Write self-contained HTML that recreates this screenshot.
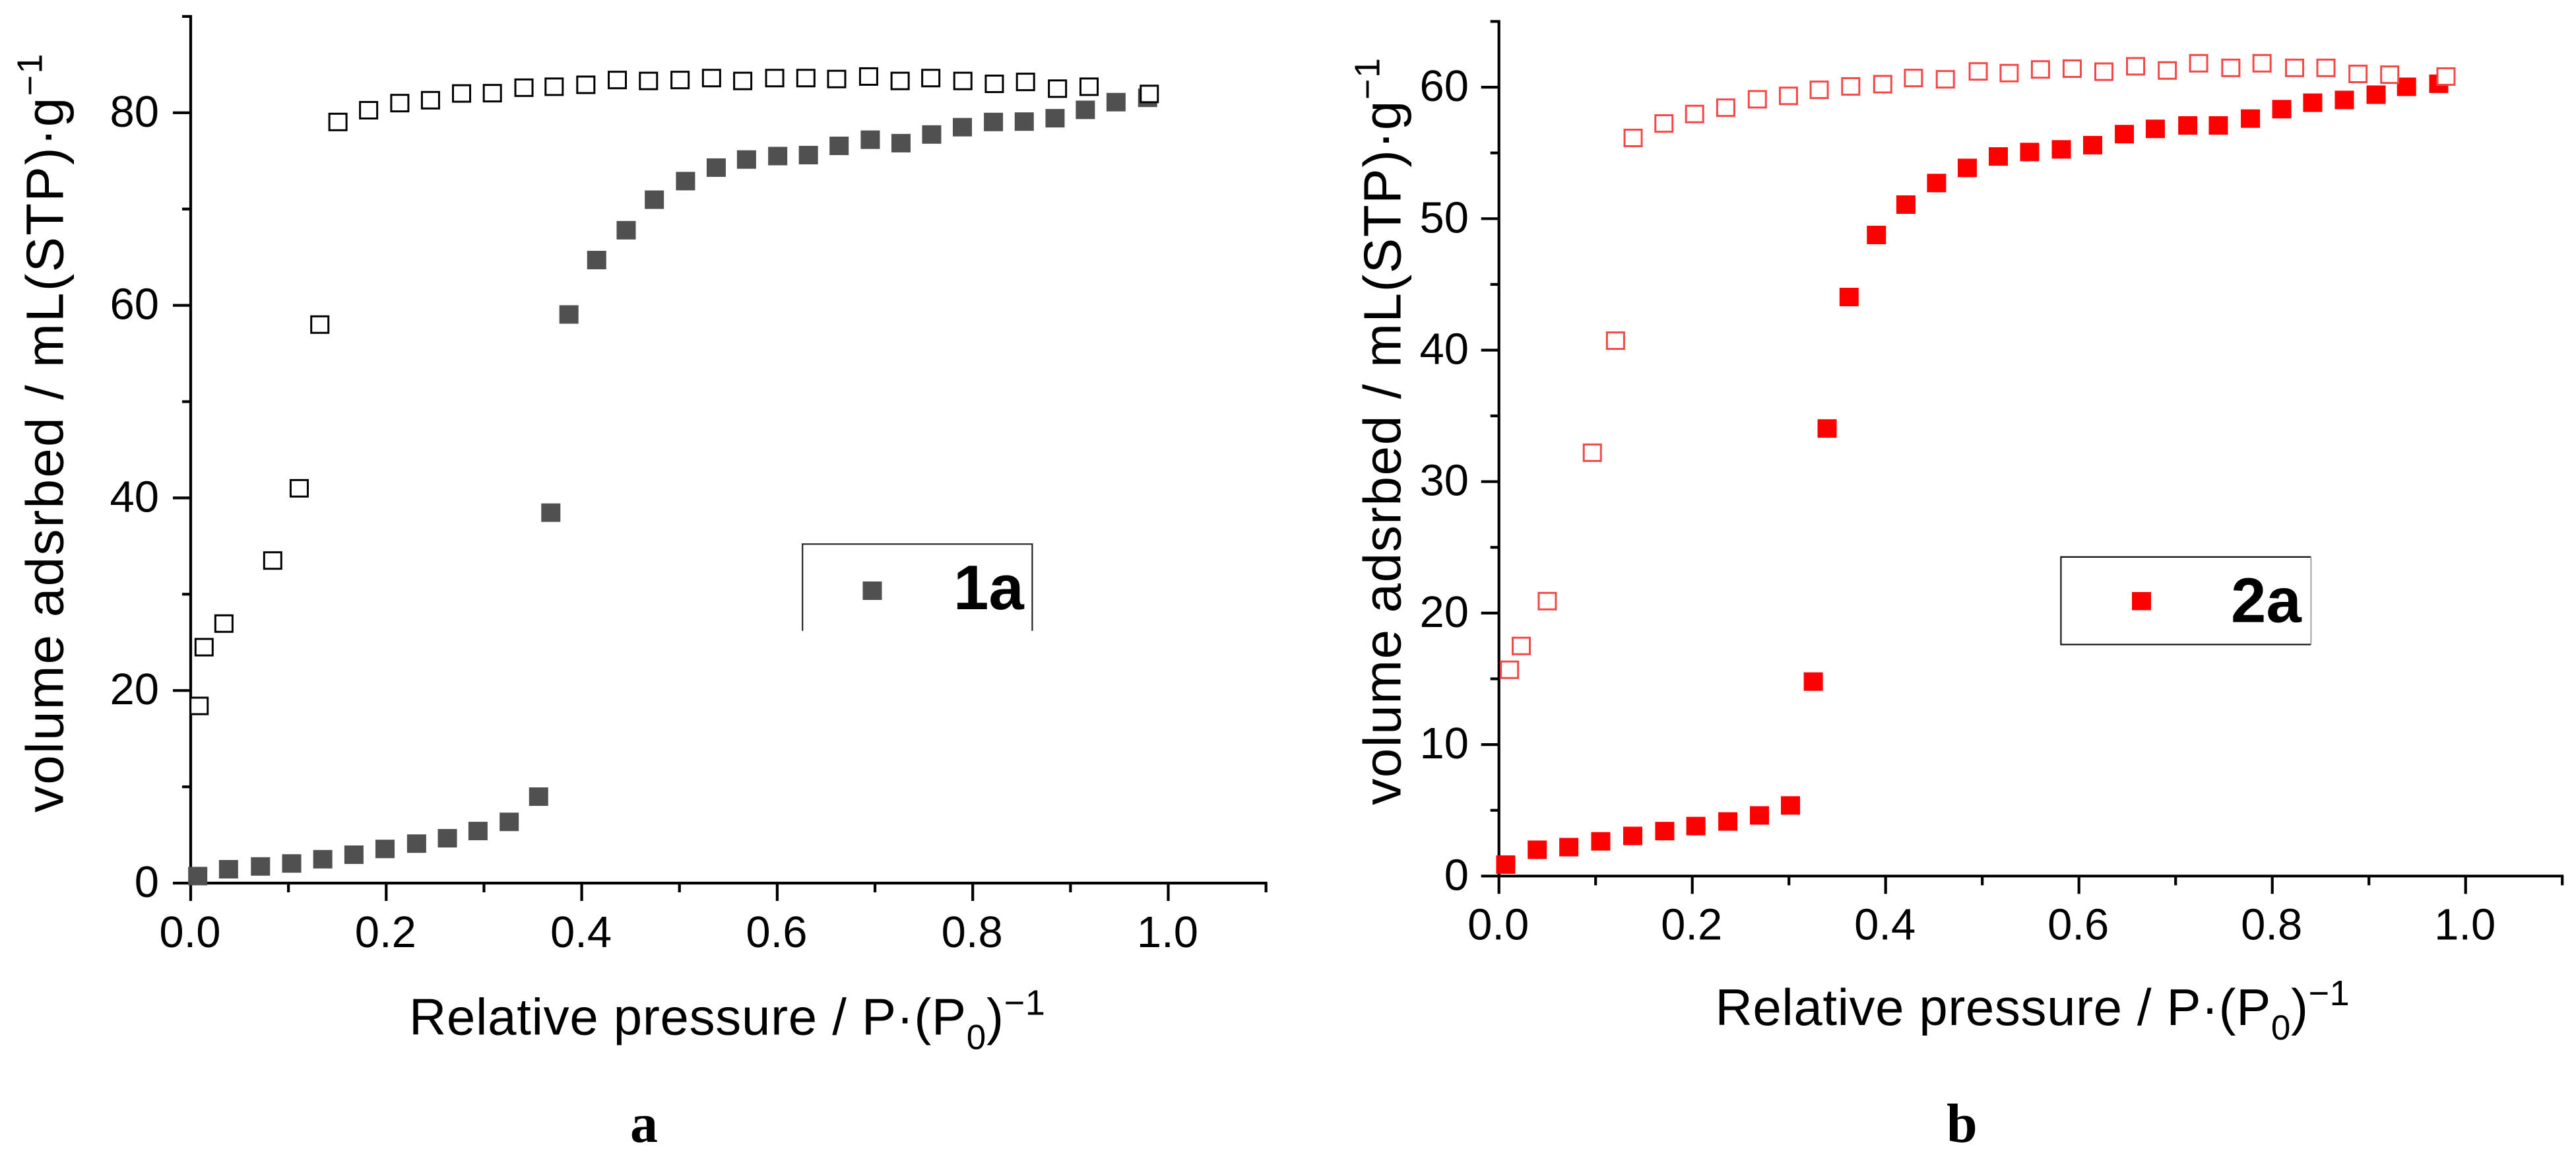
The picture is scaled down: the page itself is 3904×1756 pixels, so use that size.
<!DOCTYPE html>
<html lang="en">
<head>
<meta charset="utf-8">
<title>Nitrogen sorption isotherms 1a and 2a</title>
<style>
html,body{margin:0;padding:0;background:#fff;}
svg{display:block;}
text{font-family:"Liberation Sans",Arial,sans-serif;fill:#000;}
.serif{font-family:"Liberation Serif","Times New Roman",serif;font-weight:bold;}
</style>
</head>
<body>
<svg id="figure" xmlns="http://www.w3.org/2000/svg" width="3904" height="1756" viewBox="0 0 3904 1756">
  <rect x="0" y="0" width="3904" height="1756" fill="#fff"/>
  <g id="panel-a"></g>
  <g id="panel-b"></g>

  <text transform="translate(95.7 1231) rotate(-90)" font-size="80" letter-spacing="2.25">volume adsrbed / mL(STP)·g<tspan dy="-32" font-size="54">−1</tspan></text>
  <text x="620" y="1567.6" font-size="78" letter-spacing="0.7">Relative pressure / P·(P<tspan dy="22" font-size="53">0</tspan><tspan dy="-22">)</tspan><tspan dy="-30" font-size="54">−1</tspan></text>

  <g>
    <path d="M1216.2 955.7V824.3H1564.4V955.7" fill="none" stroke="#222" stroke-width="2.2"/>
    <rect x="1307.5" y="881" width="29" height="28" fill="#505050"/>
    <text x="1445" y="923" font-size="96" font-weight="bold">1a</text>
  </g>
  <g>
    <path d="M3502.4 843.9H3123.4V976.5H3502.4" fill="none" stroke="#111" stroke-width="2.2"/>
    <line x1="3502.4" y1="843.9" x2="3502.4" y2="976.5" stroke="#999" stroke-width="1.8"/>
    <rect x="3231" y="897" width="29" height="27.5" fill="#ff0000"/>
    <text x="3381" y="942.4" font-size="96" font-weight="bold">2a</text>
  </g>

  <text transform="translate(2122.4 1219.8) rotate(-90)" font-size="80" letter-spacing="1.6">volume adsrbed / mL(STP)·g<tspan dy="-32" font-size="54">−1</tspan></text>
  <text x="2599.5" y="1553" font-size="78" letter-spacing="0.6">Relative pressure / P·(P<tspan dy="22" font-size="53">0</tspan><tspan dy="-22">)</tspan><tspan dy="-30" font-size="54">−1</tspan></text>

  <text class="serif" x="955" y="1730" font-size="84">a</text>
  <text class="serif" x="2950" y="1730" font-size="84">b</text>
</svg>
<script>
// Shared tick labels
const xTickValuesMajor = [0, 0.2, 0.4, 0.6, 0.8, 1.0];
const xTickLabels = ["0.0", "0.2", "0.4", "0.6", "0.8", "1.0"];
const xTickValuesMinor = [0.1, 0.3, 0.5, 0.7, 0.9, 1.1];

// Panel a
const aYTickValuesMajor = [0, 20, 40, 60, 80];
const aYTickLabels = ["0", "20", "40", "60", "80"];
const aYTickValuesMinor = [10, 30, 50, 70, 90];
const aAdsorptionP = [0.0072,0.0387,0.0714,0.1033,0.1351,0.167,0.1988,0.2311,0.2626,0.2939,0.3258,0.3559,0.3684,0.3869,0.4153,0.4455,0.4743,0.5062,0.5376,0.5686,0.6005,0.6319,0.6633,0.6952,0.7266,0.758,0.7894,0.8212,0.8527,0.8842,0.9152,0.9466,0.9789];
const aAdsorptionV = [0.73,1.44,1.73,2.04,2.48,2.95,3.55,4.1,4.66,5.41,6.36,8.98,38.47,59.05,64.7,67.8,70.97,72.9,74.3,75.14,75.5,75.6,76.56,77.2,76.84,77.74,78.5,79.04,79.08,79.43,80.3,81.1,81.55];
const aDesorptionP = [0.0086,0.0137,0.034,0.0839,0.111,0.1321,0.1506,0.182,0.2139,0.2453,0.2771,0.3086,0.3409,0.3718,0.4042,0.4364,0.4683,0.5006,0.5328,0.5647,0.5974,0.6293,0.6608,0.6935,0.7257,0.7571,0.7899,0.8221,0.854,0.8867,0.919,0.9806];
const aDesorptionV = [18.4,24.5,26.95,33.5,41.0,58.0,79.04,80.26,81.0,81.3,82.0,82.03,82.6,82.7,82.9,83.4,83.3,83.4,83.6,83.3,83.6,83.6,83.5,83.76,83.3,83.6,83.3,83.0,83.2,82.5,82.7,81.95];

// Panel b
const bYTickValuesMajor = [0, 10, 20, 30, 40, 50, 60];
const bYTickLabels = ["0", "10", "20", "30", "40", "50", "60"];
const bYTickValuesMinor = [5, 15, 25, 35, 45, 55, 65];
const bAdsorptionP = [0.007,0.0396,0.0723,0.1053,0.1384,0.1715,0.2037,0.2368,0.2695,0.3016,0.3252,0.3395,0.3622,0.3905,0.421,0.4527,0.4845,0.5166,0.549,0.5818,0.6142,0.647,0.679,0.7126,0.7442,0.7774,0.8098,0.8418,0.8746,0.9074,0.9389,0.9722];
const bAdsorptionV = [0.87,2.0,2.2,2.64,3.05,3.42,3.8,4.15,4.61,5.37,14.79,34.04,44.04,48.76,51.07,52.71,53.86,54.73,55.07,55.27,55.59,56.43,56.83,57.09,57.09,57.61,58.33,58.82,59.03,59.43,60.03,60.26];
const bDesorptionP = [0.0109,0.0231,0.05,0.0966,0.1206,0.1388,0.1707,0.2024,0.2346,0.2673,0.2995,0.3313,0.3639,0.397,0.4288,0.4618,0.4958,0.5278,0.5602,0.593,0.6258,0.6586,0.6914,0.7238,0.7571,0.7894,0.8231,0.8555,0.8887,0.9215,0.9797];
const bDesorptionV = [15.69,17.5,20.91,32.2,40.72,56.14,57.24,57.96,58.44,59.08,59.34,59.8,60.06,60.23,60.7,60.6,61.2,61.07,61.35,61.41,61.18,61.59,61.27,61.82,61.47,61.82,61.47,61.47,61.01,60.95,60.81];

const SVG_NS = "http://www.w3.org/2000/svg";

function make(tag, parent, attrs) {
  const node = document.createElementNS(SVG_NS, tag);
  for (const key in attrs) node.setAttribute(key, attrs[key]);
  parent.appendChild(node);
  return node;
}

function drawPanel(cfg) {
  const root = document.getElementById(cfg.id);
  const X = v => cfg.x0 + v * cfg.xUnit;
  const Y = v => cfg.y0 - v * cfg.yUnit;
  const axisStyle = { stroke: "#000", "stroke-width": 4.2, fill: "none" };

  // axis lines
  const yAxis = make("line", root, Object.assign({ x1: X(0), x2: X(0), y1: Y(cfg.yMax) - 2, y2: cfg.y0 + 27 }, axisStyle));
  
  
  const xAxis = make("line", root, Object.assign({ x1: X(0) - 27, x2: X(1.1) + 2, y1: cfg.y0, y2: cfg.y0 }, axisStyle));
  
  

  // x ticks
  xTickValuesMajor.forEach((v, i) => {
    if (v !== 0) {
      const t = make("line", root, Object.assign({ x1: X(v), x2: X(v), y1: cfg.y0, y2: cfg.y0 + 27 }, axisStyle));
      
      
    }
    const label = make("text", root, { x: X(v) - 1, y: cfg.y0 + cfg.xLabelDrop, "font-size": 67, "text-anchor": "middle" });
    label.textContent = xTickLabels[i];
    
    
  });
  xTickValuesMinor.forEach(v => {
    const t = make("line", root, Object.assign({ x1: X(v), x2: X(v), y1: cfg.y0, y2: cfg.y0 + 14 }, axisStyle));
    
    
  });

  // y ticks
  cfg.yMajor.forEach((v, i) => {
    if (v !== 0) {
      const t = make("line", root, Object.assign({ x1: X(0) - 27, x2: X(0), y1: Y(v), y2: Y(v) }, axisStyle));
      
      
    }
    const label = make("text", root, { x: X(0) + cfg.yLabelGap, y: Y(v) + 21, "font-size": 67, "text-anchor": "end" });
    label.textContent = cfg.yLabels[i];
    
    
  });
  cfg.yMinor.forEach(v => {
    const t = make("line", root, Object.assign({ x1: X(0) - 13, x2: X(0), y1: Y(v), y2: Y(v) }, axisStyle));
    
    
  });

  // filled adsorption points
  cfg.adsP.forEach((p, i) => {
    const m = make("rect", root, { x: X(p) - 14.5, y: Y(cfg.adsV[i]) - 14, width: 29, height: 28, fill: cfg.fill });
    
    
  });

  // open desorption points
  cfg.desP.forEach((p, i) => {
    const m = make("rect", root, { x: X(p) - 13, y: Y(cfg.desV[i]) - 12.5, width: 26, height: 25, fill: "#fff", stroke: cfg.outline, "stroke-width": 3 });
    
    
  });
}

drawPanel({
  id: "panel-a", x0: 289, xUnit: 1481.5, y0: 1338, yUnit: 14.59, yMax: 90,
  xLabelDrop: 97, yLabelGap: -48,
  yMajor: aYTickValuesMajor, yLabels: aYTickLabels, yMinor: aYTickValuesMinor,
  adsP: aAdsorptionP, adsV: aAdsorptionV, desP: aDesorptionP, desV: aDesorptionV,
  fill: "#505050", outline: "#000"
});
drawPanel({
  id: "panel-b", x0: 2271.7, xUnit: 1465, y0: 1327.3, yUnit: 19.92, yMax: 65,
  xLabelDrop: 96, yLabelGap: -45.7,
  yMajor: bYTickValuesMajor, yLabels: bYTickLabels, yMinor: bYTickValuesMinor,
  adsP: bAdsorptionP, adsV: bAdsorptionV, desP: bDesorptionP, desV: bDesorptionV,
  fill: "#ff0000", outline: "#f44848"
});
</script>
</body>
</html>
